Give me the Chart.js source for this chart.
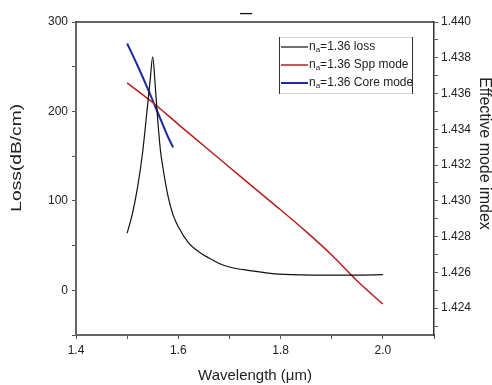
<!DOCTYPE html>
<html>
<head>
<meta charset="utf-8">
<script src="https://cdn.jsdelivr.net/npm/chart.js@4.4.0/dist/chart.umd.min.js"></script>
<style>
html,body{margin:0;padding:0;background:#fff}
#wrap{width:492px;height:385px;position:relative}
</style>
</head>
<body>
<div id="wrap"><canvas id="c"></canvas></div>
<script>
// ---- data ----
const lossWavelength = [1.50,1.51,1.52,1.53,1.54,1.545,1.55,1.555,1.56,1.565,1.57,1.58,1.59,1.60,1.62,1.64,1.66,1.68,1.70,1.74,1.78,1.82,1.86,1.90,1.95,2.00];
const lossValues     = [64,85,114,153,207,235,261,228,189,157,137,105,84,71,53,43,36,30,26,22,19,17.5,17,17,17,17.5];

const sppWavelength  = [1.50,1.55,1.60,1.65,1.70,1.75,1.80,1.85,1.90,1.95,2.00];
const sppIndex       = [1.4366,1.4355,1.43428,1.43308,1.43188,1.43068,1.42950,1.42828,1.42697,1.42552,1.42423];

const coreWavelength = [1.50,1.52,1.54,1.56,1.58,1.59];
const coreIndex      = [1.4388,1.43758,1.43629,1.43493,1.43357,1.43299];

const seriesLabels = ['nₐ=1.36 loss','nₐ=1.36 Spp mode','nₐ=1.36 Core mode'];

const xTicks = [1.4,1.5,1.6,1.7,1.8,1.9,2.0,2.1];
const xTickLabels = ['1.4','','1.6','','1.8','','2.0',''];
const lossTicks = [-50,0,50,100,150,200,250,300];
const lossTickLabels = ['','0','','100','','200','','300'];
const indexTicks = [1.423,1.424,1.425,1.426,1.427,1.428,1.429,1.430,1.431,1.432,1.433,1.434,1.435,1.436,1.437,1.438,1.439,1.440];
const indexTickLabels = ['','1.424','','1.426','','1.428','','1.430','','1.432','','1.434','','1.436','','1.438','','1.440'];

const xTitle = 'Wavelength (μm)';
const lossTitle = 'Loss(dB/cm)';
const indexTitle = 'Effective mode imdex';
const topMark = '—';

// ---- helpers ----
const pts = (xs, ys) => xs.map((x, i) => ({x, y: ys[i]}));
const setTicks = arr => scale => { scale.ticks = arr.map(v => ({value: v})); };
const FAM = '"Liberation Sans", Arial, sans-serif';
const tickFont = {family: FAM, size: 12};

const frame = {
  id: 'frame',
  afterDraw(chart) {
    const {ctx, chartArea: a} = chart;
    ctx.save();
    ctx.strokeStyle = '#333';
    ctx.lineWidth = 1.5;
    ctx.beginPath();
    ctx.moveTo(a.left, a.top);
    ctx.lineTo(a.right, a.top);
    ctx.stroke();
    ctx.restore();
  }
};

// side axis titles (the reference places them a little above the plot centre)
const sideTitles = {
  id: 'sideTitles',
  afterDraw(chart) {
    const {ctx, chartArea: a, width} = chart;
    const h = a.bottom - a.top;
    ctx.save();
    ctx.fillStyle = '#222';
    ctx.textAlign = 'center';
    ctx.textBaseline = 'middle';
    // left
    ctx.save();
    ctx.translate(17, a.top + h * 0.434);
    ctx.rotate(-Math.PI / 2);
    ctx.scale(1.28, 1);
    ctx.font = '15px ' + FAM;
    ctx.fillText(lossTitle, 0, 0);
    ctx.restore();
    // right
    ctx.save();
    ctx.translate(width - 8, a.top + h * 0.42);
    ctx.rotate(Math.PI / 2);
    ctx.font = '16px ' + FAM;
    ctx.fillText(indexTitle, 0, 0);
    ctx.restore();
    ctx.restore();
  }
};

const legendBox = {
  id: 'legendBox',
  afterDatasetsDraw(chart) {
    const {ctx, chartArea: a} = chart;
    const w = 134, h = 57, x = a.right - 155, y = a.top + 15;
    ctx.save();
    ctx.fillStyle = '#fff';
    ctx.fillRect(x, y, w, h);
    ctx.lineWidth = 1;
    ctx.strokeStyle = '#d4d4d4';
    ctx.beginPath();
    ctx.moveTo(x, y + 0.5); ctx.lineTo(x + w, y + 0.5);
    ctx.moveTo(x, y + h - 0.5); ctx.lineTo(x + w, y + h - 0.5);
    ctx.stroke();
    ctx.strokeStyle = '#333';
    ctx.beginPath();
    ctx.moveTo(x + 0.5, y); ctx.lineTo(x + 0.5, y + h);
    ctx.moveTo(x + w - 0.5, y); ctx.lineTo(x + w - 0.5, y + h);
    ctx.stroke();
    chart.data.datasets.forEach((ds, i) => {
      const cy = y + 10 + i * 18;
      ctx.strokeStyle = ds.borderColor;
      ctx.lineWidth = ds.borderWidth;
      ctx.beginPath();
      ctx.moveTo(x + 2, cy); ctx.lineTo(x + 29, cy);
      ctx.stroke();
      const parts = ds.label.split('ₐ');
      ctx.fillStyle = '#222';
      ctx.textBaseline = 'middle';
      ctx.textAlign = 'left';
      let tx = x + 30;
      ctx.font = '12px ' + FAM;
      ctx.fillText(parts[0], tx, cy);
      tx += ctx.measureText(parts[0]).width;
      if (parts.length > 1) {
        ctx.font = '8px ' + FAM;
        ctx.fillText('a', tx, cy + 3);
        tx += ctx.measureText('a').width;
        ctx.font = '12px ' + FAM;
        ctx.fillText(parts[1], tx, cy);
      }
    });
    ctx.restore();
  }
};

new Chart(document.getElementById('c'), {
  type: 'line',
  data: {
    datasets: [
      {label: seriesLabels[0], data: pts(lossWavelength, lossValues), yAxisID: 'yLoss',
       borderColor: '#111111', borderWidth: 1.2, pointRadius: 0, cubicInterpolationMode: 'monotone', fill: false},
      {label: seriesLabels[1], data: pts(sppWavelength, sppIndex), yAxisID: 'yIndex',
       borderColor: '#b71c1c', borderWidth: 1.5, pointRadius: 0, cubicInterpolationMode: 'monotone', fill: false},
      {label: seriesLabels[2], data: pts(coreWavelength, coreIndex), yAxisID: 'yIndex',
       borderColor: '#1c2a9e', borderWidth: 2, pointRadius: 0, cubicInterpolationMode: 'monotone', fill: false}
    ]
  },
  options: {
    responsive: true,
    maintainAspectRatio: false,
    animation: false,
    devicePixelRatio: 1,
    layout: {padding: 0},
    plugins: {
      legend: {display: false},
      tooltip: {enabled: false},
      title: {
        display: true, text: topMark, color: '#111',
        font: {family: FAM, size: 12, weight: 'bold', lineHeight: 1},
        padding: {top: 8, bottom: 2}
      }
    },
    scales: {
      x: {
        type: 'linear', position: 'bottom', min: 1.4, max: 2.1,
        afterBuildTicks: setTicks(xTicks),
        afterFit: s => { s.height = 50; },
        grid: {display: true, drawOnChartArea: false, drawTicks: true, tickLength: 4, tickColor: '#555', tickWidth: 1},
        border: {display: true, color: '#666', width: 2},
        ticks: {autoSkip: false, maxRotation: 0, padding: 4, color: '#222', font: tickFont,
                callback: (v, i) => xTickLabels[i]},
        title: {display: true, text: xTitle, color: '#222',
                font: {family: FAM, size: 15, lineHeight: 1.2},
                padding: {top: 0, bottom: 0}}
      },
      yLoss: {
        type: 'linear', position: 'left', min: -50, max: 300,
        afterBuildTicks: setTicks(lossTicks),
        afterFit: s => { s.width = 76; },
        grid: {display: true, drawOnChartArea: false, drawTicks: true, tickLength: 4, tickColor: '#555', tickWidth: 1},
        border: {display: true, color: '#666', width: 2},
        ticks: {autoSkip: false, padding: 4, color: '#222', font: tickFont,
                callback: (v, i) => lossTickLabels[i]}
      },
      yIndex: {
        type: 'linear', position: 'right', min: 1.4225, max: 1.440,
        afterBuildTicks: setTicks(indexTicks),
        afterFit: s => { s.width = 58; },
        grid: {display: true, drawOnChartArea: false, drawTicks: true, tickLength: 4, tickColor: '#555', tickWidth: 1},
        border: {display: true, color: '#333', width: 1.5},
        ticks: {autoSkip: false, padding: 3, color: '#222', font: tickFont,
                callback: (v, i) => indexTickLabels[i]}
      }
    }
  },
  plugins: [frame, sideTitles, legendBox]
});
</script>
</body>
</html>
